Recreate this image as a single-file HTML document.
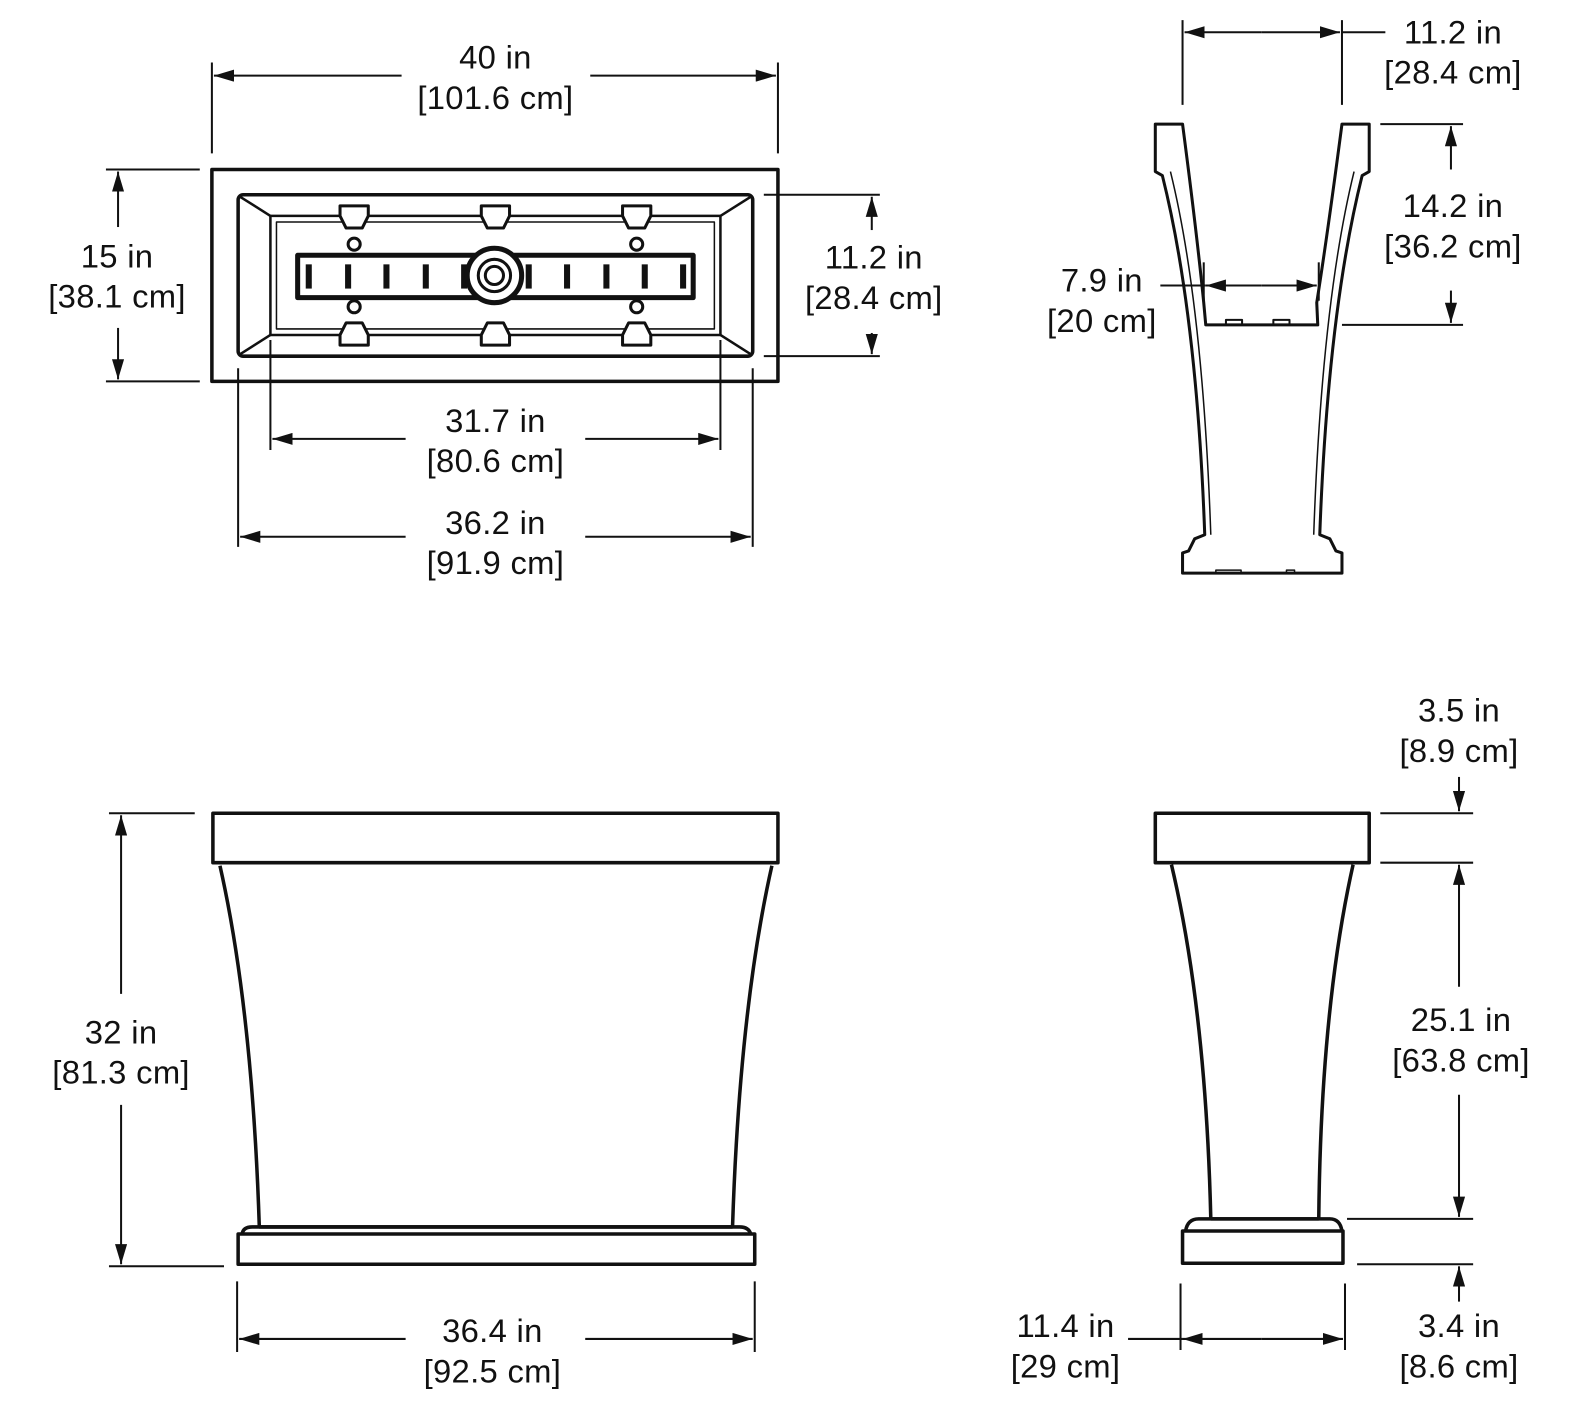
<!DOCTYPE html>
<html><head><meta charset="utf-8"><style>
html,body{margin:0;padding:0;background:#fff;width:1580px;height:1405px;overflow:hidden}
svg{display:block}
text{font-family:"Liberation Sans",sans-serif;font-size:32.5px;fill:#111;text-anchor:middle;letter-spacing:0.3px}
</style></head><body>
<svg width="1580" height="1405" viewBox="0 0 1580 1405" xmlns="http://www.w3.org/2000/svg">
<defs>
<marker id="a" viewBox="0 0 20 12" refX="20" refY="6" markerWidth="20" markerHeight="12" markerUnits="userSpaceOnUse" orient="auto-start-reverse"><path d="M0,0 L20,6 L0,12 z" fill="#111"/></marker>
</defs>
<g transform="scale(1.009)" stroke="#111" fill="none" stroke-linejoin="round">
<!-- ===== TOP-LEFT PLAN ===== -->
<g stroke-width="2">
<line x1="210" y1="62" x2="210" y2="152"/><line x1="771" y1="62" x2="771" y2="152"/>
<line x1="398" y1="75" x2="212" y2="75" marker-end="url(#a)"/><line x1="585" y1="75" x2="769" y2="75" marker-end="url(#a)"/>
<line x1="105" y1="168" x2="198" y2="168"/><line x1="105" y1="378" x2="198" y2="378"/>
<line x1="117" y1="225" x2="117" y2="170" marker-end="url(#a)"/><line x1="117" y1="325" x2="117" y2="376" marker-end="url(#a)"/>
<line x1="757" y1="193" x2="872" y2="193"/><line x1="757" y1="353" x2="872" y2="353"/>
<line x1="864" y1="228" x2="864" y2="195" marker-end="url(#a)"/><line x1="864" y1="330" x2="864" y2="351" marker-end="url(#a)"/>
<line x1="268" y1="337" x2="268" y2="446"/><line x1="714" y1="337" x2="714" y2="446"/>
<line x1="402" y1="435" x2="270" y2="435" marker-end="url(#a)"/><line x1="580" y1="435" x2="712" y2="435" marker-end="url(#a)"/>
<line x1="236" y1="365" x2="236" y2="542"/><line x1="746" y1="365" x2="746" y2="542"/>
<line x1="402" y1="532" x2="238" y2="532" marker-end="url(#a)"/><line x1="580" y1="532" x2="744" y2="532" marker-end="url(#a)"/>
</g>
<rect x="210" y="168" width="561" height="210" stroke-width="3.5"/>
<rect x="236" y="193" width="510" height="160" rx="5" stroke-width="3.5"/>
<rect x="268" y="214" width="446" height="118" stroke-width="2.5"/>
<rect x="274" y="220" width="434" height="106" stroke-width="1.5"/>
<g stroke-width="2.5"><line x1="238" y1="195" x2="268" y2="214"/><line x1="744" y1="195" x2="714" y2="214"/><line x1="238" y1="351" x2="268" y2="332"/><line x1="744" y1="351" x2="714" y2="332"/></g>
<rect x="295" y="253" width="392" height="42" stroke-width="5"/>
<g fill="#111" stroke="none">
<rect x="303" y="262" width="6" height="24"/><rect x="342" y="262" width="6" height="24"/><rect x="380" y="262" width="6" height="24"/><rect x="419" y="262" width="6" height="24"/><rect x="457" y="262" width="6" height="24"/>
<rect x="521" y="262" width="6" height="24"/><rect x="559" y="262" width="6" height="24"/><rect x="598" y="262" width="6" height="24"/><rect x="636" y="262" width="6" height="24"/><rect x="674" y="262" width="6" height="24"/>
</g>
<circle cx="490" cy="273" r="27" fill="#fff" stroke-width="5"/>
<circle cx="490" cy="273" r="16" stroke-width="3"/><circle cx="490" cy="273" r="9" stroke-width="3"/>
<g stroke-width="3" fill="#fff">
<path d="M337,204 h28 v10 l-6,12 h-16 l-6,-12 z"/><path d="M477,204 h28 v10 l-6,12 h-16 l-6,-12 z"/><path d="M617,204 h28 v10 l-6,12 h-16 l-6,-12 z"/>
<path d="M337,342 h28 v-10 l-6,-12 h-16 l-6,12 z"/><path d="M477,342 h28 v-10 l-6,-12 h-16 l-6,12 z"/><path d="M617,342 h28 v-10 l-6,-12 h-16 l-6,12 z"/>
<circle cx="351" cy="242" r="6"/><circle cx="631" cy="242" r="6"/><circle cx="351" cy="304" r="6"/><circle cx="631" cy="304" r="6"/>
</g>
<!-- ===== TOP-RIGHT SECTION ===== -->
<g stroke-width="2">
<line x1="1172" y1="20" x2="1172" y2="104"/><line x1="1330" y1="20" x2="1330" y2="104"/>
<line x1="1250" y1="32" x2="1174" y2="32" marker-end="url(#a)"/><line x1="1250" y1="32" x2="1328" y2="32" marker-end="url(#a)"/>
<line x1="1330" y1="32" x2="1373" y2="32"/>
<line x1="1368" y1="123" x2="1450" y2="123"/><line x1="1330" y1="322" x2="1450" y2="322"/>
<line x1="1438" y1="168" x2="1438" y2="125" marker-end="url(#a)"/><line x1="1438" y1="288" x2="1438" y2="320" marker-end="url(#a)"/>
<line x1="1193" y1="260" x2="1193" y2="298"/><line x1="1307" y1="260" x2="1307" y2="298"/>
<line x1="1150" y1="283" x2="1195" y2="283"/>
<line x1="1250" y1="283" x2="1195" y2="283" marker-end="url(#a)"/><line x1="1250" y1="283" x2="1305" y2="283" marker-end="url(#a)"/>
</g>
<g stroke-width="3">
<path d="M1172,123 L1145,123 L1145,170 L1152,174 Q1186,310 1194,530 L1184,534 L1178,546 L1172,548 L1172,568 L1330,568 L1330,548 L1324,546 L1318,534 L1308,530 Q1316,310 1350,174 L1357,170 L1357,123 L1330,123 Q1316,230 1305,300 L1306,322 L1195,322 L1193,300 Q1186,230 1172,123 z"/>
<path d="M1160,170 Q1192,300 1200,530" stroke-width="1.5"/><path d="M1342,170 Q1310,300 1302,530" stroke-width="1.5"/>
<path d="M1215,322 v-5 h16 v5 M1262,322 v-5 h16 v5" stroke-width="2"/>
<path d="M1205,568 v-3 h25 v3 M1275,568 v-3 h8 v3" stroke-width="1.5"/>
</g>
<!-- ===== BOTTOM-LEFT FRONT ===== -->
<g stroke-width="2">
<line x1="108" y1="806" x2="193" y2="806"/><line x1="108" y1="1255" x2="222" y2="1255"/>
<line x1="120" y1="985" x2="120" y2="808" marker-end="url(#a)"/><line x1="120" y1="1095" x2="120" y2="1253" marker-end="url(#a)"/>
<line x1="235" y1="1270" x2="235" y2="1340"/><line x1="748" y1="1270" x2="748" y2="1340"/>
<line x1="402" y1="1327" x2="237" y2="1327" marker-end="url(#a)"/><line x1="580" y1="1327" x2="746" y2="1327" marker-end="url(#a)"/>
</g>
<g stroke-width="3.5">
<rect x="211" y="806" width="560" height="49"/>
<path d="M218,858 Q250,1000 257,1216"/><path d="M765,858 Q733,1000 726,1216"/>
<path d="M257,1216 L726,1216"/>
<path d="M240,1223 Q241,1216 250,1216 L733,1216 Q742,1216 744,1223"/>
<rect x="236" y="1223" width="512" height="30"/>
</g>
<!-- ===== BOTTOM-RIGHT SIDE ===== -->
<g stroke-width="2">
<line x1="1368" y1="806" x2="1460" y2="806"/><line x1="1368" y1="855" x2="1460" y2="855"/>
<line x1="1446" y1="770" x2="1446" y2="804" marker-end="url(#a)"/>
<line x1="1446" y1="978" x2="1446" y2="857" marker-end="url(#a)"/><line x1="1446" y1="1085" x2="1446" y2="1206" marker-end="url(#a)"/>
<line x1="1335" y1="1208" x2="1460" y2="1208"/><line x1="1345" y1="1253" x2="1460" y2="1253"/>
<line x1="1446" y1="1290" x2="1446" y2="1255" marker-end="url(#a)"/>
<line x1="1170" y1="1272" x2="1170" y2="1338"/><line x1="1333" y1="1272" x2="1333" y2="1338"/>
<line x1="1118" y1="1327" x2="1172" y2="1327"/>
<line x1="1250" y1="1327" x2="1172" y2="1327" marker-end="url(#a)"/><line x1="1250" y1="1327" x2="1331" y2="1327" marker-end="url(#a)"/>
</g>
<g stroke-width="3.5">
<rect x="1145" y="806" width="212" height="49"/>
<path d="M1161,857 Q1195,1000 1200,1208"/><path d="M1341,857 Q1309,1000 1307,1208"/>
<path d="M1200,1208 L1307,1208"/>
<path d="M1175,1220 Q1177,1208 1188,1208 L1318,1208 Q1328,1208 1330,1220"/>
<rect x="1172" y="1220" width="159" height="32"/>
</g>
</g>
<!-- ===== TEXT ===== -->
<g transform="scale(1.009)">
<text x="491" y="68">40 in</text><text x="491" y="108">[101.6 cm]</text>
<text x="116" y="265">15 in</text><text x="116" y="305">[38.1 cm]</text>
<text x="866" y="266">11.2 in</text><text x="866" y="306">[28.4 cm]</text>
<text x="491" y="428">31.7 in</text><text x="491" y="468">[80.6 cm]</text>
<text x="491" y="529">36.2 in</text><text x="491" y="569">[91.9 cm]</text>
<text x="1440" y="43">11.2 in</text><text x="1440" y="83">[28.4 cm]</text>
<text x="1440" y="215">14.2 in</text><text x="1440" y="255">[36.2 cm]</text>
<text x="1092" y="289">7.9 in</text><text x="1092" y="329">[20 cm]</text>
<text x="120" y="1034">32 in</text><text x="120" y="1074">[81.3 cm]</text>
<text x="488" y="1330">36.4 in</text><text x="488" y="1370">[92.5 cm]</text>
<text x="1446" y="715">3.5 in</text><text x="1446" y="755">[8.9 cm]</text>
<text x="1448" y="1022">25.1 in</text><text x="1448" y="1062">[63.8 cm]</text>
<text x="1446" y="1325">3.4 in</text><text x="1446" y="1365">[8.6 cm]</text>
<text x="1056" y="1325">11.4 in</text><text x="1056" y="1365">[29 cm]</text>
</g>
</svg>
</body></html>
